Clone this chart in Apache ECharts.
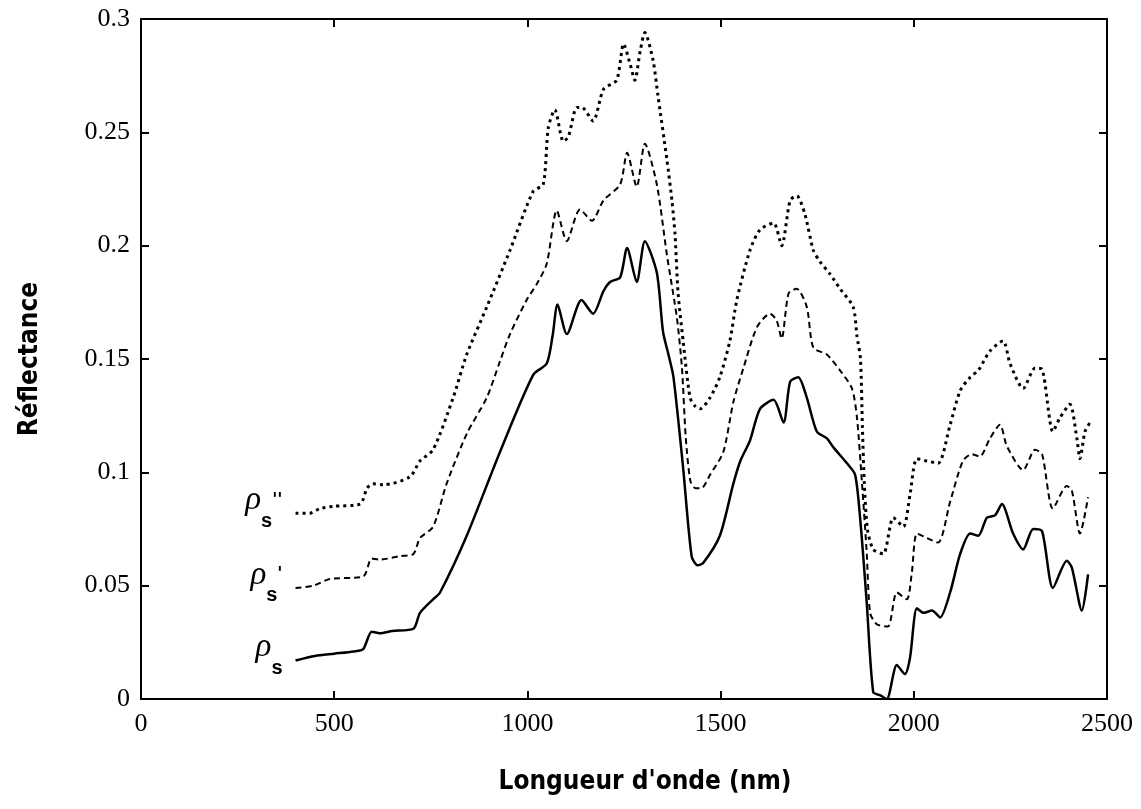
<!DOCTYPE html>
<html>
<head>
<meta charset="utf-8">
<script src="https://cdn.jsdelivr.net/npm/echarts@6/dist/echarts.min.js"></script>
<style>
html,body{margin:0;padding:0;background:#fff;}
#chart{width:1141px;height:809px;}
</style>
</head>
<body>
<div id="chart"></div>
<script>
// ---- data ----
const xTickLabels = ['0', '500', '1000', '1500', '2000', '2500'];
const yTickLabels = ['0', '0.05', '0.1', '0.15', '0.2', '0.25', '0.3'];

const seriesNames = ['ρs', "ρs'", "ρs''"];

// ρs (solid)
const wlS = [400, 450, 500, 550, 575, 597, 618, 650, 705, 722, 756, 774, 843, 929, 1015, 1050, 1065, 1078, 1102, 1140, 1170, 1197, 1214, 1240, 1258, 1283, 1304, 1335, 1351, 1365, 1378, 1403, 1425, 1440, 1455, 1498, 1533, 1551, 1576, 1602, 1637, 1663, 1680, 1701, 1723, 1749, 1775, 1792, 1827, 1848, 1861, 1878, 1895, 1912, 1930, 1956, 1977, 1990, 2008, 2025, 2047, 2068, 2094, 2120, 2146, 2167, 2189, 2210, 2228, 2257, 2283, 2309, 2332, 2360, 2396, 2409, 2435, 2451];
const valS = [0.017, 0.019, 0.020, 0.021, 0.022, 0.0297, 0.029, 0.030, 0.031, 0.038, 0.044, 0.047, 0.072, 0.109, 0.143, 0.148, 0.160, 0.174, 0.161, 0.176, 0.170, 0.180, 0.184, 0.186, 0.199, 0.184, 0.202, 0.188, 0.162, 0.152, 0.142, 0.102, 0.063, 0.059, 0.060, 0.072, 0.095, 0.105, 0.114, 0.128, 0.132, 0.122, 0.140, 0.142, 0.133, 0.118, 0.115, 0.111, 0.104, 0.099, 0.080, 0.043, 0.003, 0.0017, 0.000, 0.015, 0.011, 0.018, 0.040, 0.038, 0.039, 0.036, 0.047, 0.064, 0.073, 0.072, 0.080, 0.081, 0.086, 0.073, 0.066, 0.075, 0.074, 0.049, 0.061, 0.058, 0.039, 0.055];

// ρs' (dashed)
const wlS1 = [400, 446, 489, 575, 597, 618, 670, 705, 722, 756, 791, 843, 895, 929, 955, 998, 1024, 1050, 1076, 1102, 1136, 1167, 1197, 1240, 1258, 1283, 1304, 1335, 1361, 1387, 1400, 1410, 1422, 1435, 1450, 1473, 1507, 1533, 1559, 1594, 1628, 1645, 1658, 1676, 1697, 1723, 1740, 1775, 1809, 1840, 1853, 1866, 1878, 1887, 1904, 1933, 1956, 1982, 1995, 2008, 2034, 2063, 2094, 2127, 2150, 2171, 2197, 2223, 2241, 2283, 2314, 2332, 2360, 2396, 2409, 2430, 2451];
const valS1 = [0.049, 0.050, 0.053, 0.054, 0.062, 0.0615, 0.063, 0.064, 0.071, 0.076, 0.095, 0.117, 0.133, 0.149, 0.161, 0.176, 0.183, 0.192, 0.2155, 0.202, 0.216, 0.211, 0.220, 0.227, 0.241, 0.226, 0.245, 0.227, 0.196, 0.168, 0.146, 0.115, 0.096, 0.093, 0.093, 0.099, 0.109, 0.131, 0.146, 0.164, 0.170, 0.167, 0.159, 0.179, 0.181, 0.173, 0.155, 0.152, 0.145, 0.137, 0.124, 0.095, 0.065, 0.038, 0.033, 0.032, 0.047, 0.044, 0.056, 0.073, 0.071, 0.069, 0.087, 0.105, 0.108, 0.107, 0.115, 0.121, 0.1115, 0.101, 0.110, 0.108, 0.084, 0.094, 0.092, 0.073, 0.089];

// ρs'' (dotted)
const wlS2 = [400, 437, 463, 497, 567, 585, 600, 627, 696, 722, 756, 808, 843, 895, 955, 1015, 1041, 1054, 1071, 1093, 1106, 1128, 1141, 1170, 1197, 1231, 1249, 1266, 1278, 1292, 1304, 1325, 1338, 1361, 1374, 1382, 1390, 1403, 1421, 1435, 1447, 1473, 1498, 1524, 1542, 1576, 1602, 1637, 1658, 1680, 1697, 1718, 1740, 1757, 1783, 1809, 1843, 1853, 1862, 1867, 1872, 1880, 1895, 1921, 1947, 1973, 1990, 2008, 2034, 2063, 2094, 2120, 2146, 2167, 2197, 2231, 2249, 2283, 2314, 2332, 2360, 2378, 2404, 2422, 2430, 2443, 2456];
const valS2 = [0.082, 0.082, 0.084, 0.085, 0.086, 0.093, 0.095, 0.0945, 0.098, 0.105, 0.110, 0.133, 0.152, 0.173, 0.198, 0.224, 0.227, 0.252, 0.260, 0.246, 0.248, 0.261, 0.261, 0.255, 0.269, 0.273, 0.289, 0.280, 0.273, 0.286, 0.294, 0.282, 0.266, 0.238, 0.220, 0.205, 0.179, 0.158, 0.133, 0.129, 0.128, 0.133, 0.142, 0.158, 0.176, 0.198, 0.207, 0.210, 0.200, 0.220, 0.222, 0.214, 0.198, 0.193, 0.1875, 0.181, 0.173, 0.160, 0.150, 0.120, 0.095, 0.075, 0.066, 0.064, 0.080, 0.076, 0.090, 0.106, 0.105, 0.104, 0.121, 0.136, 0.142, 0.145, 0.1535, 0.158, 0.148, 0.137, 0.146, 0.1455, 0.118, 0.124, 0.130, 0.115, 0.106, 0.118, 0.122];

const primes = ['', "'", "''"];

// ---- chart ----
const chart = echarts.init(document.getElementById('chart'), null, {renderer: 'canvas'});

function buildData(xs, ys, k) {
  return xs.map((x, i) => {
    if (i !== 0) return [x, ys[i]];
    return {
      value: [x, ys[i]],
      label: {
        show: true,
        position: 'left',
        distance: 13,
        offset: [0, -13],
        formatter: '{r|ρ}{s|s}' + (primes[k] ? '{p|' + primes[k] + '}' : ''),
        rich: {
          r: {fontFamily: 'Liberation Serif', fontStyle: 'italic', fontSize: 33, color: '#000', lineHeight: 62, verticalAlign: 'middle'},
          s: {fontFamily: 'Liberation Sans', fontWeight: 'bold', fontSize: 20, color: '#000', lineHeight: 20, verticalAlign: 'bottom'},
          p: {fontFamily: 'DejaVu Sans', fontWeight: 'bold', fontSize: 17, color: '#000', lineHeight: 18, verticalAlign: 'middle'}
        }
      }
    };
  });
}

const axisFont = {fontFamily: 'Liberation Serif', fontSize: 26, color: '#000'};
const titleFont = {fontFamily: 'DejaVu Sans Condensed, Liberation Sans Narrow, sans-serif', fontWeight: 'bold', fontSize: 26, color: '#000'};
const axisLine = {show: true, onZero: false, lineStyle: {color: '#000', width: 2}};
const tick = {show: true, inside: true, length: 8, lineStyle: {color: '#000', width: 2}};

const option = {
  backgroundColor: '#fff',
  animation: false,
  grid: {left: 141, right: 34, top: 19, bottom: 110, containLabel: false},
  xAxis: [{
    type: 'value', min: 0, max: 2500, interval: 500,
    name: "Longueur d'onde (nm)", nameLocation: 'middle', nameGap: 70,
    nameTextStyle: Object.assign({padding: [0, 0, 0, 42]}, titleFont),
    axisLine: axisLine, axisTick: tick,
    axisLabel: Object.assign({margin: 12, formatter: (v) => xTickLabels[Math.round(v / 500)]}, axisFont),
    splitLine: {show: false}
  }, {
    type: 'value', min: 0, max: 2500, interval: 500, position: 'top',
    axisLine: axisLine, axisTick: tick,
    axisLabel: {show: false}, splitLine: {show: false}
  }],
  yAxis: [{
    type: 'value', min: 0, max: 0.3, interval: 0.05,
    name: 'Réflectance', nameLocation: 'middle', nameGap: 98, nameRotate: 90,
    nameTextStyle: titleFont,
    axisLine: axisLine, axisTick: tick,
    axisLabel: Object.assign({margin: 11, formatter: (v) => yTickLabels[Math.round(v / 0.05)]}, axisFont),
    splitLine: {show: false}
  }, {
    type: 'value', min: 0, max: 0.3, interval: 0.05, position: 'right',
    axisLine: axisLine, axisTick: tick,
    axisLabel: {show: false}, splitLine: {show: false}
  }],
  series: [
    {name: seriesNames[0], type: 'line', xAxisIndex: 0, yAxisIndex: 0, data: buildData(wlS, valS, 0),
     smooth: 0.25, showSymbol: true, symbol: 'circle', symbolSize: 0, itemStyle: {color: '#000'},
     lineStyle: {color: '#000', width: 2.5, type: 'solid'}},
    {name: seriesNames[1], type: 'line', xAxisIndex: 0, yAxisIndex: 0, data: buildData(wlS1, valS1, 1),
     smooth: 0.25, showSymbol: true, symbol: 'circle', symbolSize: 0, itemStyle: {color: '#000'},
     lineStyle: {color: '#000', width: 2, type: [6, 4]}},
    {name: seriesNames[2], type: 'line', xAxisIndex: 0, yAxisIndex: 0, data: buildData(wlS2, valS2, 2),
     smooth: 0.25, showSymbol: true, symbol: 'circle', symbolSize: 0, itemStyle: {color: '#000'},
     lineStyle: {color: '#000', width: 3, type: [3, 4]}}
  ]
};
chart.setOption(option);
</script>
</body>
</html>
